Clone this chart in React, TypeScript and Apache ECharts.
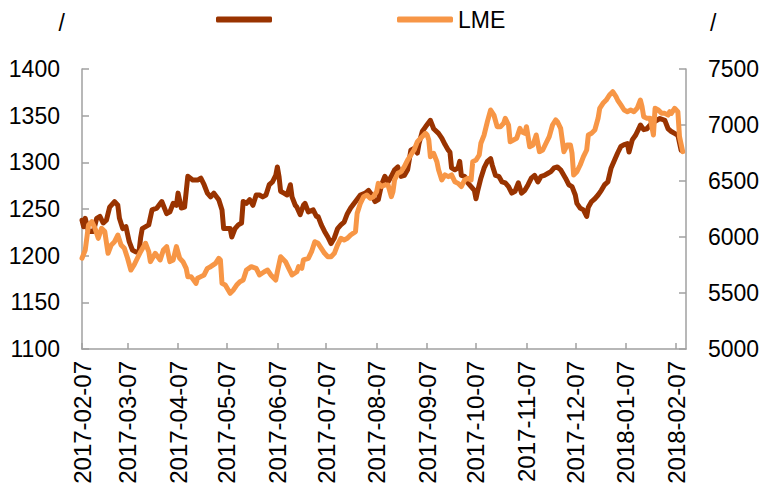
import React, { useEffect, useRef } from 'react';
import * as echarts from 'echarts';

const xTickLabels = [
  '2017-02-07', '2017-03-07', '2017-04-07', '2017-05-07', '2017-06-07', '2017-07-07', '2017-08-07',
  '2017-09-07', '2017-10-07', '2017-11-07', '2017-12-07', '2018-01-07', '2018-02-07',
];
const xMin = '2017-02-07';
const xMax = '2018-02-13';

const leftAxisName = '/';
const rightAxisName = '/';
const seriesNames = [' ', 'LME'];

const leftTicks = { min: 1100, max: 1400, interval: 50 };
const rightTicks = { min: 5000, max: 7500, interval: 500 };

const brownDates = [
  '2017-02-07', '2017-02-08', '2017-02-09', '2017-02-11', '2017-02-14', '2017-02-16', '2017-02-18', '2017-02-20',
  '2017-02-22', '2017-02-24', '2017-02-27', '2017-03-01', '2017-03-02', '2017-03-04', '2017-03-06', '2017-03-08',
  '2017-03-10', '2017-03-12', '2017-03-14', '2017-03-15', '2017-03-16', '2017-03-20', '2017-03-22', '2017-03-25',
  '2017-03-28', '2017-03-31', '2017-04-02', '2017-04-04', '2017-04-06', '2017-04-07', '2017-04-09', '2017-04-11',
  '2017-04-13', '2017-04-16',
  '2017-04-19', '2017-04-21', '2017-04-23', '2017-04-25', '2017-04-27', '2017-04-29', '2017-05-02', '2017-05-04',
  '2017-05-05', '2017-05-07', '2017-05-09', '2017-05-10', '2017-05-12', '2017-05-14', '2017-05-16', '2017-05-17',
  '2017-05-19', '2017-05-21', '2017-05-23', '2017-05-25', '2017-05-27', '2017-05-29', '2017-05-31', '2017-06-02',
  '2017-06-04', '2017-06-06', '2017-06-07', '2017-06-08', '2017-06-09', '2017-06-11', '2017-06-13', '2017-06-15',
  '2017-06-16', '2017-06-18', '2017-06-19', '2017-06-21', '2017-06-23', '2017-06-24', '2017-06-26', '2017-06-29',
  '2017-07-01',
  '2017-07-02', '2017-07-04', '2017-07-06', '2017-07-08', '2017-07-10', '2017-07-12', '2017-07-14', '2017-07-16',
  '2017-07-18', '2017-07-20', '2017-07-22', '2017-07-25', '2017-07-28', '2017-07-31', '2017-08-02', '2017-08-04',
  '2017-08-06', '2017-08-08', '2017-08-10', '2017-08-12', '2017-08-14', '2017-08-16', '2017-08-18', '2017-08-20',
  '2017-08-22', '2017-08-24', '2017-08-26', '2017-08-28', '2017-08-30', '2017-09-01', '2017-09-02', '2017-09-04',
  '2017-09-06', '2017-09-09', '2017-09-11',
  '2017-09-14', '2017-09-16', '2017-09-18', '2017-09-20', '2017-09-21', '2017-09-22', '2017-09-24', '2017-09-26',
  '2017-09-27', '2017-09-28', '2017-09-30', '2017-10-02', '2017-10-04', '2017-10-06', '2017-10-07', '2017-10-08',
  '2017-10-10', '2017-10-12', '2017-10-14', '2017-10-16', '2017-10-17', '2017-10-19', '2017-10-21', '2017-10-23',
  '2017-10-25', '2017-10-27', '2017-10-29', '2017-10-31', '2017-11-02', '2017-11-04', '2017-11-06', '2017-11-08',
  '2017-11-10', '2017-11-12', '2017-11-14', '2017-11-16', '2017-11-18', '2017-11-20', '2017-11-22', '2017-11-24',
  '2017-11-26', '2017-11-28', '2017-12-01', '2017-12-03', '2017-12-05', '2017-12-07', '2017-12-08', '2017-12-10',
  '2017-12-12', '2017-12-14', '2017-12-15', '2017-12-17', '2017-12-19', '2017-12-21', '2017-12-23', '2017-12-25',
  '2017-12-27', '2017-12-29', '2017-12-31', '2018-01-02', '2018-01-04', '2018-01-06', '2018-01-08', '2018-01-09',
  '2018-01-11', '2018-01-13', '2018-01-15', '2018-01-16', '2018-01-18', '2018-01-20', '2018-01-22', '2018-01-25',
  '2018-01-28', '2018-01-31', '2018-02-02', '2018-02-04', '2018-02-06', '2018-02-08', '2018-02-10',
];
const brownValues = [
  1238, 1231, 1240, 1226, 1226, 1240, 1242, 1235, 1238, 1252, 1258, 1254, 1240, 1229, 1231, 1215, 1206, 1204, 1204,
  1219, 1229, 1233, 1249, 1251, 1258, 1245, 1247, 1256, 1254, 1267, 1251, 1252, 1285, 1281,
  1281, 1283, 1276, 1267, 1263, 1267, 1260, 1249, 1229, 1229, 1229, 1220, 1229, 1233, 1235, 1258, 1256, 1260, 1254,
  1265, 1265, 1263, 1265, 1276, 1279, 1286, 1295, 1285, 1269, 1267, 1265, 1276, 1263, 1254, 1252, 1244, 1254, 1256,
  1247, 1249, 1242,
  1242, 1233, 1226, 1220, 1213, 1219, 1229, 1233, 1236, 1245, 1251, 1258, 1265, 1267, 1270, 1265, 1258, 1260, 1276,
  1285, 1279, 1285, 1292, 1295, 1285, 1286, 1292, 1313, 1315, 1310, 1320, 1333, 1338, 1345, 1336,
  1331, 1326, 1319, 1313, 1311, 1294, 1292, 1294, 1301, 1286, 1285, 1278, 1274, 1270, 1261, 1269, 1283, 1294, 1301,
  1304, 1297, 1286, 1285, 1279, 1278, 1274, 1267, 1269, 1278, 1267, 1270, 1276, 1283, 1286, 1279, 1285, 1286, 1288,
  1290, 1294,
  1295, 1292, 1283, 1276, 1274, 1265, 1256, 1251, 1249, 1242, 1252, 1258, 1261, 1265, 1270, 1276, 1279, 1294, 1302,
  1310, 1317, 1319, 1320, 1311, 1324, 1329, 1336, 1340, 1335, 1336, 1340, 1344, 1347, 1345, 1336, 1333, 1331, 1329,
  1313,
];

const lmeDates = [
  '2017-02-07', '2017-02-09', '2017-02-11', '2017-02-13', '2017-02-15', '2017-02-17', '2017-02-19', '2017-02-21',
  '2017-02-23', '2017-02-25', '2017-02-27', '2017-03-01', '2017-03-03', '2017-03-05', '2017-03-07', '2017-03-09',
  '2017-03-11', '2017-03-13', '2017-03-15', '2017-03-18', '2017-03-20', '2017-03-21', '2017-03-24', '2017-03-27',
  '2017-03-29', '2017-03-31', '2017-04-02', '2017-04-04', '2017-04-06', '2017-04-08', '2017-04-10', '2017-04-12',
  '2017-04-13', '2017-04-15', '2017-04-18',
  '2017-04-19', '2017-04-21', '2017-04-23', '2017-04-25', '2017-04-27', '2017-04-30', '2017-05-02', '2017-05-03',
  '2017-05-04', '2017-05-06', '2017-05-09', '2017-05-11', '2017-05-13', '2017-05-15', '2017-05-17', '2017-05-19',
  '2017-05-22', '2017-05-25', '2017-05-27', '2017-05-30', '2017-06-01', '2017-06-03', '2017-06-06', '2017-06-07',
  '2017-06-09', '2017-06-12', '2017-06-14', '2017-06-16', '2017-06-19', '2017-06-20', '2017-06-22', '2017-06-23',
  '2017-06-26', '2017-06-28', '2017-06-30',
  '2017-07-02', '2017-07-04', '2017-07-06', '2017-07-08', '2017-07-10', '2017-07-12', '2017-07-14', '2017-07-16',
  '2017-07-18', '2017-07-20', '2017-07-22', '2017-07-25', '2017-07-26', '2017-07-28', '2017-07-30', '2017-08-01',
  '2017-08-03', '2017-08-05', '2017-08-07', '2017-08-08', '2017-08-10', '2017-08-12', '2017-08-14', '2017-08-16',
  '2017-08-17', '2017-08-18', '2017-08-20', '2017-08-22', '2017-08-24', '2017-08-26', '2017-08-28', '2017-08-30',
  '2017-09-01', '2017-09-03', '2017-09-06', '2017-09-07', '2017-09-08', '2017-09-09', '2017-09-11', '2017-09-13',
  '2017-09-14', '2017-09-16', '2017-09-18', '2017-09-20', '2017-09-22', '2017-09-24', '2017-09-26', '2017-09-28',
  '2017-09-30', '2017-10-02', '2017-10-04', '2017-10-05', '2017-10-07', '2017-10-09', '2017-10-10', '2017-10-12',
  '2017-10-14', '2017-10-16', '2017-10-18', '2017-10-20', '2017-10-22', '2017-10-24', '2017-10-25', '2017-10-27',
  '2017-10-28', '2017-10-30', '2017-11-01', '2017-11-03', '2017-11-04', '2017-11-06', '2017-11-07', '2017-11-09',
  '2017-11-11', '2017-11-13', '2017-11-15', '2017-11-17', '2017-11-19', '2017-11-21', '2017-11-23', '2017-11-25',
  '2017-11-26', '2017-11-28', '2017-11-30', '2017-12-02', '2017-12-04', '2017-12-05', '2017-12-06', '2017-12-08',
  '2017-12-10', '2017-12-12', '2017-12-14', '2017-12-15', '2017-12-17', '2017-12-19', '2017-12-21', '2017-12-22',
  '2017-12-24', '2017-12-26', '2017-12-28', '2017-12-30', '2018-01-01', '2018-01-02', '2018-01-04', '2018-01-06',
  '2018-01-08', '2018-01-10', '2018-01-12', '2018-01-14', '2018-01-16', '2018-01-17', '2018-01-18', '2018-01-20',
  '2018-01-22', '2018-01-24', '2018-01-25', '2018-01-27', '2018-01-29', '2018-01-31', '2018-02-02', '2018-02-03',
  '2018-02-04', '2018-02-06', '2018-02-08', '2018-02-09', '2018-02-11',
];
const lmeValues = [
  5810, 5884, 6107, 6137, 6077, 5988, 6077, 6048, 5854, 5929, 5958, 6018, 5929, 5899, 5810, 5705, 5750, 5810, 5869,
  5944, 5869, 5780, 5854, 5795, 5884, 5914, 5780, 5795, 5914, 5810, 5780, 5720, 5646, 5646, 5586,
  5631, 5646, 5661, 5720, 5735, 5765, 5810, 5795, 5586, 5571, 5497, 5527, 5571, 5601, 5616, 5705, 5735, 5720, 5661,
  5690, 5705, 5661, 5616, 5690, 5824, 5780, 5720, 5661, 5690, 5735, 5720, 5795, 5810, 5869, 5958,
  5944, 5899, 5854, 5824, 5824, 5854, 5929, 5988, 5973, 5988, 6018, 6048, 6211, 6301, 6360, 6375, 6345, 6360, 6405,
  6479, 6450, 6464, 6464, 6360, 6405, 6509, 6569, 6583, 6628, 6687, 6732, 6777, 6851, 6881, 6926, 6911, 6866, 6717,
  6747, 6672,
  6600, 6509, 6554, 6539, 6554, 6494, 6479, 6450, 6509, 6524, 6509, 6672, 6687, 6732, 6837, 6911, 7030, 7134, 7089,
  6985, 6985, 7015, 7060, 7000, 6851, 6866, 6881, 6970, 6940, 6926, 6985, 6806, 6821, 6911, 6762, 6777, 6837, 6896,
  7000, 7045,
  7030, 6970, 6762, 6821, 6821, 6747, 6554, 6583, 6643, 6717, 6777, 6911, 6926, 6955, 7060, 7149, 7194, 7223, 7268,
  7297, 7253, 7223, 7179, 7134, 7119, 7134, 7119, 7149, 7223, 7164, 7074, 7060, 7060, 6911, 7149, 7134, 7104, 7104,
  7089, 7119, 7104, 7149, 7119, 6896, 6762,
];

const BROWN = '#993300';
const ORANGE = '#F79646';
const AXIS_GRAY = '#A0A0A0';
const FONT = "'Liberation Sans', Arial, sans-serif";

function toTs(s: string): number {
  const [y, m, d] = s.split('-').map(Number);
  return new Date(y, m - 1, d).getTime();
}

function fmt(v: number): string {
  const d = new Date(v);
  const p = (n: number) => (n < 10 ? '0' + n : '' + n);
  return d.getFullYear() + '-' + p(d.getMonth() + 1) + '-' + p(d.getDate());
}

export default function App() {
  const ref = useRef<HTMLDivElement>(null);

  useEffect(() => {
    if (!ref.current) return;
    const chart = echarts.init(ref.current, undefined, { renderer: 'svg' });
    const ticks = xTickLabels.map(toTs);
    const legendBase = {
      orient: 'horizontal',
      top: 5,
      padding: 0,
      icon: 'roundRect',
      itemWidth: 56,
      itemHeight: 6,
      itemGap: 10,
      selectedMode: false,
      textStyle: { fontFamily: FONT, fontSize: 23, color: '#000' },
    };
    const yCommon = {
      type: 'value',
      nameLocation: 'end',
      nameGap: 46,
      axisLine: { show: true, lineStyle: { color: AXIS_GRAY, width: 1.5 } },
      axisTick: { show: true, inside: true, length: 7, lineStyle: { color: AXIS_GRAY, width: 1.5 } },
      splitLine: { show: false },
      axisLabel: {
        fontFamily: FONT, fontSize: 23, color: '#000', margin: 22,
        formatter: (v: number) => String(v),
      },
    };
    chart.setOption({
      animation: false,
      legend: [
        { ...legendBase, left: 216, top: 8, data: [seriesNames[0]] },
        { ...legendBase, left: 397, top: 8, data: [seriesNames[1]] },
      ],
      grid: { left: 82, right: 78, top: 69, bottom: 147 },
      xAxis: {
        type: 'value',
        min: toTs(xMin),
        max: toTs(xMax),
        axisLine: { show: true, lineStyle: { color: AXIS_GRAY, width: 1.5 } },
        axisTick: {
          show: true,
          inside: true,
          length: 6,
          customValues: ticks,
          lineStyle: { color: AXIS_GRAY, width: 1.5 },
        },
        axisLabel: {
          customValues: ticks,
          rotate: 90,
          margin: 12,
          fontFamily: FONT,
          fontSize: 24,
          color: '#000',
          formatter: (v: number) => fmt(v),
        },
        splitLine: { show: false },
      },
      yAxis: [
        {
          ...yCommon,
          name: leftAxisName,
          position: 'left',
          min: leftTicks.min,
          max: leftTicks.max,
          interval: leftTicks.interval,
          nameTextStyle: {
            fontFamily: FONT, fontSize: 23, color: '#000', align: 'right', verticalAlign: 'middle',
            padding: [0, 17, 0, 0],
          },
        },
        {
          ...yCommon,
          name: rightAxisName,
          position: 'right',
          min: rightTicks.min,
          max: rightTicks.max,
          interval: rightTicks.interval,
          nameTextStyle: {
            fontFamily: FONT, fontSize: 23, color: '#000', align: 'left', verticalAlign: 'middle',
            padding: [0, 0, 0, 24],
          },
        },
      ],
      series: [
        {
          name: seriesNames[0],
          type: 'line',
          yAxisIndex: 0,
          showSymbol: false,
          symbol: 'none',
          color: BROWN,
          lineStyle: { color: BROWN, width: 5, cap: 'round', join: 'round' },
          data: brownDates.map((d, i) => [toTs(d), brownValues[i]]),
        },
        {
          name: seriesNames[1],
          type: 'line',
          yAxisIndex: 1,
          showSymbol: false,
          symbol: 'none',
          color: ORANGE,
          lineStyle: { color: ORANGE, width: 5, cap: 'round', join: 'round' },
          data: lmeDates.map((d, i) => [toTs(d), lmeValues[i]]),
        },
      ],
    });
    return () => chart.dispose();
  }, []);

  return <div ref={ref} style={{ width: 764, height: 496, position: 'absolute', left: 0, top: 0 }} />;
}
